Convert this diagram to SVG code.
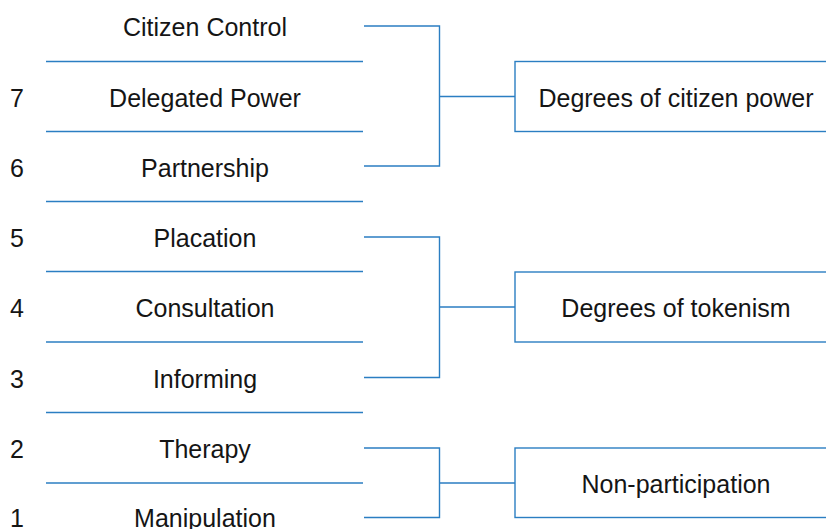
<svg xmlns="http://www.w3.org/2000/svg" width="826" height="529" viewBox="0 0 826 529">
<style>
.ln{stroke:#2b7ec2;stroke-width:1.4;fill:none}
.t{font-family:"Liberation Sans",Arial,sans-serif;font-size:25px;fill:#151515;text-anchor:middle}
.n{font-family:"Liberation Sans",Arial,sans-serif;font-size:25px;fill:#151515;text-anchor:middle}
</style>
<rect width="826" height="529" fill="#fff"/>
<g id="rungs">
<g id="rung8"><text class="t" x="205" y="36">Citizen Control</text></g>
<g id="rung7"><text class="n" x="17" y="107">7</text><text class="t" x="205" y="107">Delegated Power</text></g>
<g id="rung6"><text class="n" x="17" y="177">6</text><text class="t" x="205" y="177">Partnership</text></g>
<g id="rung5"><text class="n" x="17" y="247">5</text><text class="t" x="205" y="247">Placation</text></g>
<g id="rung4"><text class="n" x="17" y="317">4</text><text class="t" x="205" y="317">Consultation</text></g>
<g id="rung3"><text class="n" x="17" y="388">3</text><text class="t" x="205" y="388">Informing</text></g>
<g id="rung2"><text class="n" x="17" y="458">2</text><text class="t" x="205" y="458">Therapy</text></g>
<g id="rung1"><text class="n" x="17" y="527">1</text><text class="t" x="205" y="527">Manipulation</text></g>
<g id="separators">
<line class="ln" x1="46" y1="61.5" x2="363" y2="61.5"/>
<line class="ln" x1="46" y1="131.5" x2="363" y2="131.5"/>
<line class="ln" x1="46" y1="201.5" x2="363" y2="201.5"/>
<line class="ln" x1="46" y1="271.5" x2="363" y2="271.5"/>
<line class="ln" x1="46" y1="342" x2="363" y2="342"/>
<line class="ln" x1="46" y1="412.5" x2="363" y2="412.5"/>
<line class="ln" x1="46" y1="483" x2="363" y2="483"/>
</g>
</g>
<g id="group-power"><rect class="ln" x="515" y="61.5" width="330" height="70"/><text class="t" x="676" y="107">Degrees of citizen power</text></g>
<g id="group-tokenism"><rect class="ln" x="515" y="272" width="330" height="70"/><text class="t" x="676" y="317">Degrees of tokenism</text></g>
<g id="group-nonpart"><rect class="ln" x="515" y="448" width="330" height="69.5"/><text class="t" x="676" y="493">Non-participation</text></g>
<g id="connectors">
<path class="ln" d="M364 26H439.5V166H364M439.5 96.5H515"/>
<path class="ln" d="M364 237H439.5V377.5H364M439.5 307H515"/>
<path class="ln" d="M364 448H439.5V517.5H364M439.5 483H515"/>
</g>
</svg>
